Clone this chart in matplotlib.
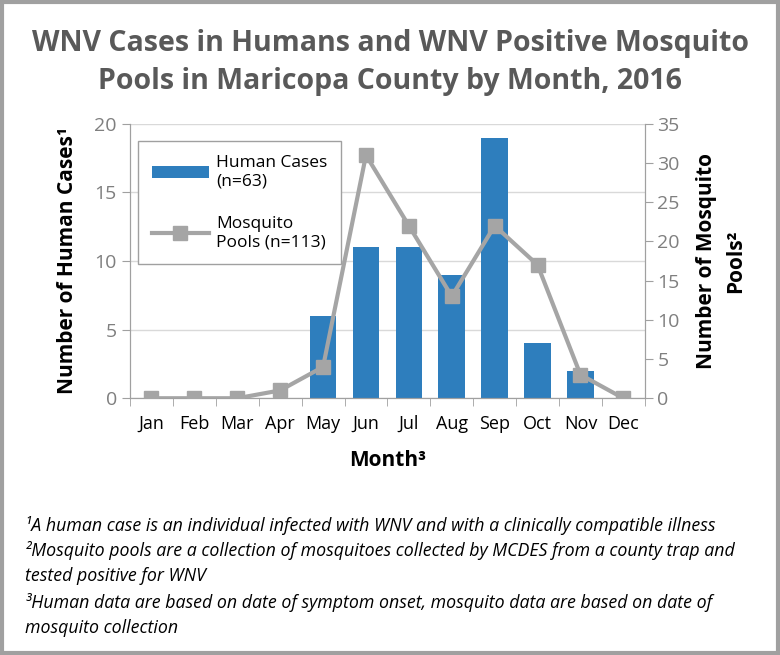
import matplotlib
matplotlib.use("Agg")
from matplotlib import pyplot as plt
from matplotlib.patches import Rectangle
import numpy as np

plt.rcParams['font.family'] = ['Open Sans', 'DejaVu Sans']

months = ['Jan', 'Feb', 'Mar', 'Apr', 'May', 'Jun', 'Jul', 'Aug', 'Sep', 'Oct', 'Nov', 'Dec']
human_cases = [0, 0, 0, 0, 6, 11, 11, 9, 19, 4, 2, 0]
mosquito_pools = [0, 0, 0, 1, 4, 31, 22, 13, 22, 17, 3, 0]

bar_color = '#2E7EBD'
line_color = '#A5A5A5'
tick_gray = '#7F7F7F'

fig = plt.figure(figsize=(7.8, 6.55), dpi=100)
fig.patches.append(Rectangle((0.003, 0.003), 0.994, 0.994, transform=fig.transFigure,
                             fill=False, edgecolor='#A0A0A0', lw=3))

ax = fig.add_axes([0.1667, 0.392, 0.660, 0.419])
x = np.arange(len(months))
bars = ax.bar(x, human_cases, width=0.62, color=bar_color, zorder=2)
ax.set_ylim(0, 20)
ax.set_yticks([0, 5, 10, 15, 20])
ax.set_xlim(-0.5, 11.5)
ax.set_xticks(x)
ax.set_xticklabels(months, fontsize=13)
ax.set_xticks(np.arange(-0.5, 12, 1), minor=True)
ax.tick_params(axis='x', which='major', length=0, pad=12)
ax.tick_params(axis='x', which='minor', length=6, color='#A0A0A0', direction='out')
ax.tick_params(axis='y', labelsize=14, labelcolor=tick_gray, color='#A0A0A0', length=6)
ax.grid(axis='y', color='#D9D9D9', lw=1, zorder=0)
ax.spines['top'].set_visible(False)
for s in ['left', 'bottom', 'right']:
    ax.spines[s].set_color('#A0A0A0')
ax.set_ylabel('Number of Human Cases\u00b9', fontsize=15, fontweight='bold', labelpad=12)
ax.set_xlabel('Month\u00b3', fontsize=15, fontweight='bold', labelpad=12)

ax2 = ax.twinx()
line, = ax2.plot(x, mosquito_pools, color=line_color, lw=3, marker='s', markersize=10,
                 zorder=3)
ax2.set_ylim(0, 35)
ax2.set_yticks(range(0, 36, 5))
ax2.tick_params(axis='y', labelsize=14, labelcolor=tick_gray, color='#A0A0A0', length=6,
                pad=3)
ax2.spines['top'].set_visible(False)
for s in ['left', 'bottom', 'right']:
    ax2.spines[s].set_color('#A0A0A0')
ax2.set_ylabel('Number of Mosquito\nPools\u00b2', fontsize=15, fontweight='bold',
               rotation=90, labelpad=12, linespacing=1.5)

leg = ax.legend([bars, line], ['Human Cases\n(n=63)', 'Mosquito\nPools (n=113)'],
                loc='upper left', bbox_to_anchor=(0.005, 0.955), fontsize=12.5,
                fancybox=False, edgecolor='#A0A0A0', framealpha=1,
                handlelength=3.3, handletextpad=0.4, labelspacing=1.5, borderpad=0.8,
                borderaxespad=0.3)
leg.set_zorder(5)

fig.text(0.5, 0.905, 'WNV Cases in Humans and WNV Positive Mosquito\nPools in Maricopa County by Month, 2016',
         ha='center', va='center', fontsize=20.5, fontweight='bold', color='#595959',
         linespacing=1.4)

notes = [
    '\u00b9A human case is an individual infected with WNV and with a clinically compatible illness',
    '\u00b2Mosquito pools are a collection of mosquitoes collected by MCDES from a county trap and',
    'tested positive for WNV',
    '\u00b3Human data are based on date of symptom onset, mosquito data are based on date of',
    'mosquito collection',
]
ys = [0.197, 0.159, 0.120, 0.080, 0.041]
for t, yy in zip(notes, ys):
    fig.text(0.032, yy, t, fontsize=12.8, style='italic', ha='left', va='center')

plt.savefig('out.png', dpi=100)
